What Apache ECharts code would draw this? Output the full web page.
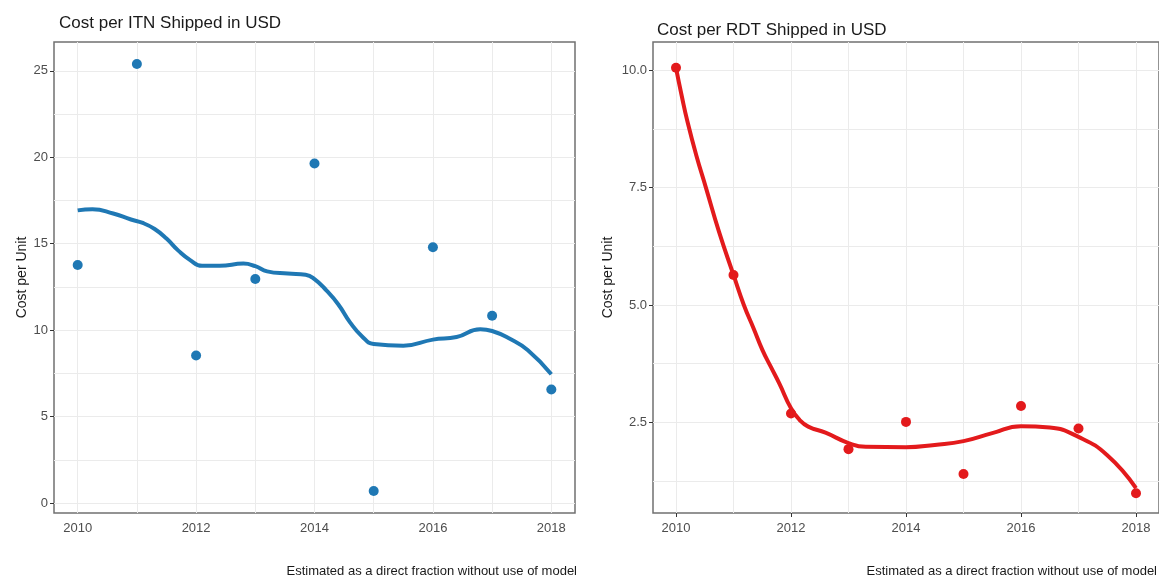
<!DOCTYPE html>
<html lang="en">
  <head>
    <meta charset="UTF-8" />
    <title>Cost per unit shipped</title>
    <style>
      * {
        padding: 0;
        margin: 0;
      }
      body {
        background: #fff;
      }
    </style>
    <script src="https://cdn.jsdelivr.net/npm/echarts@6/dist/echarts.min.js"></script>
  </head>
  <body>
    <div id="main" style="width: 1159px; height: 578px;"></div>
    <script type="text/javascript">
      // yearly observed cost per unit
      var years = [2010, 2011, 2012, 2013, 2014, 2015, 2016, 2017, 2018];
      var itnCost = [13.77, 25.4, 8.53, 12.96, 19.64, 0.69, 14.8, 10.83, 6.57];
      var rdtCost = [10.05, 5.64, 2.69, 1.93, 2.51, 1.4, 2.85, 2.37, 0.99];

      // smoothed trend
      var itnTrendX = [2010, 2010.25, 2010.6, 2010.9, 2011.1, 2011.3, 2011.5, 2011.7, 2011.9, 2012.1,
        2012.4, 2012.8, 2013, 2013.2, 2013.55, 2013.85, 2014, 2014.2, 2014.4, 2014.6,
        2014.8, 2015, 2015.5, 2016, 2016.4, 2016.8, 2017, 2017.3, 2017.6, 2018];
      var itnTrendY = [16.93, 17.0, 16.75, 16.4, 16.2, 15.85, 15.3, 14.6, 14.05, 13.72,
        13.72, 13.85, 13.7, 13.4, 13.27, 13.2, 12.95, 12.3, 11.5, 10.45,
        9.65, 9.2, 9.1, 9.45, 9.6, 10.05, 9.95, 9.5, 8.85, 7.45];
      var rdtTrendX = [2010, 2010.1, 2010.2, 2010.35, 2010.52, 2010.75, 2011, 2011.18, 2011.35, 2011.5,
        2011.65, 2011.8, 2012, 2012.15, 2012.3, 2012.6, 2013, 2013.3, 2014, 2014.5,
        2015, 2015.5, 2016, 2016.5, 2017, 2017.5, 2018];
      var rdtTrendY = [10.05, 9.45, 8.9, 8.2, 7.5, 6.55, 5.64, 5.0, 4.5, 4.05,
        3.68, 3.32, 2.8, 2.55, 2.41, 2.28, 2.06, 1.98, 1.97, 2.02,
        2.1, 2.27, 2.42, 2.39, 2.19, 1.8, 1.1];

      // tick labels and grid lines
      var xTicks = [2010, 2012, 2014, 2016, 2018];
      var xGrid = [2010, 2011, 2012, 2013, 2014, 2015, 2016, 2017, 2018];
      var itnTicks = [0, 5, 10, 15, 20, 25];
      var itnGrid = [0, 2.5, 5, 7.5, 10, 12.5, 15, 17.5, 20, 22.5, 25];
      var rdtTicks = [2.5, 5, 7.5, 10];
      var rdtGrid = [1.25, 2.5, 3.75, 5, 6.25, 7.5, 8.75, 10];

      var font = 'Liberation Sans, Arial, sans-serif';
      var blue = '#1f78b4';
      var red = '#e31a1c';

      function zip(xs, ys) {
        return xs.map(function (x, i) { return [x, ys[i]]; });
      }

      function gridLines(xs, ys) {
        return {
          silent: true,
          z: 1,
          animation: false,
          symbol: ['none', 'none'],
          label: {show: false},
          emphasis: {disabled: true},
          lineStyle: {color: '#ebebeb', width: 1, type: 'solid'},
          data: xs.map(function (v) { return {xAxis: v}; })
            .concat(ys.map(function (v) { return {yAxis: v}; }))
        };
      }

      function xAxis(idx) {
        return {
          type: 'value',
          gridIndex: idx,
          min: 2009.6,
          max: 2018.4,
          splitLine: {show: false},
          axisLine: {show: false},
          axisTick: {show: true, customValues: xTicks, length: 4, lineStyle: {color: '#333'}},
          axisLabel: {
            customValues: xTicks,
            color: '#4d4d4d',
            fontSize: 13,
            fontFamily: font,
            margin: 9,
            formatter: function (v) { return String(v); }
          }
        };
      }

      var myChart = echarts.init(document.getElementById('main'));

      var option = {
        animation: false,
        backgroundColor: '#fff',
        title: [
          {
            text: 'Cost per ITN Shipped in USD',
            left: 54,
            top: 10,
            textStyle: {fontSize: 17, fontWeight: 'normal', color: '#1a1a1a', fontFamily: font}
          },
          {
            text: 'Cost per RDT Shipped in USD',
            left: 652,
            top: 17,
            textStyle: {fontSize: 17, fontWeight: 'normal', color: '#1a1a1a', fontFamily: font}
          }
        ],
        grid: [
          {left: 54, right: 584, top: 42, bottom: 65, show: true, borderColor: '#707070', borderWidth: 1.5},
          {left: 653, right: -2, top: 42, bottom: 65, show: true, borderColor: '#707070', borderWidth: 1.5}
        ],
        xAxis: [xAxis(0), xAxis(1)],
        yAxis: [
          {
            type: 'value',
            gridIndex: 0,
            min: -0.58,
            max: 26.67,
            name: 'Cost per Unit',
            nameLocation: 'middle',
            nameGap: 25,
            nameTextStyle: {fontSize: 14, color: '#1a1a1a', fontFamily: font},
            splitLine: {show: false},
            axisLine: {show: false},
            axisTick: {show: true, customValues: itnTicks, length: 4, lineStyle: {color: '#333'}},
            axisLabel: {customValues: itnTicks, color: '#4d4d4d', fontSize: 13, fontFamily: font, margin: 6}
          },
          {
            type: 'value',
            gridIndex: 1,
            min: 0.57,
            max: 10.6,
            name: 'Cost per Unit',
            nameLocation: 'middle',
            nameGap: 38,
            nameTextStyle: {fontSize: 14, color: '#1a1a1a', fontFamily: font},
            splitLine: {show: false},
            axisLine: {show: false},
            axisTick: {show: true, customValues: rdtTicks, length: 4, lineStyle: {color: '#333'}},
            axisLabel: {
              customValues: rdtTicks,
              color: '#4d4d4d',
              fontSize: 13,
              fontFamily: font,
              margin: 6,
              formatter: function (v) { return v.toFixed(1); }
            }
          }
        ],
        graphic: [
          {
            type: 'text',
            right: 582,
            top: 565,
            style: {text: 'Estimated as a direct fraction without use of model', fill: '#1a1a1a', font: '13px ' + font}
          },
          {
            type: 'text',
            right: 2,
            top: 565,
            style: {text: 'Estimated as a direct fraction without use of model', fill: '#1a1a1a', font: '13px ' + font}
          }
        ],
        series: [
          {
            type: 'scatter',
            xAxisIndex: 0,
            yAxisIndex: 0,
            symbolSize: 10,
            itemStyle: {color: blue, opacity: 1},
            data: zip(years, itnCost),
            markLine: gridLines(xGrid, itnGrid),
            z: 3
          },
          {
            type: 'line',
            xAxisIndex: 0,
            yAxisIndex: 0,
            smooth: true,
            showSymbol: false,
            lineStyle: {color: blue, width: 4},
            data: zip(itnTrendX, itnTrendY),
            z: 4
          },
          {
            type: 'scatter',
            xAxisIndex: 1,
            yAxisIndex: 1,
            symbolSize: 10,
            itemStyle: {color: red, opacity: 1},
            data: zip(years, rdtCost),
            markLine: gridLines(xGrid, rdtGrid),
            z: 3
          },
          {
            type: 'line',
            xAxisIndex: 1,
            yAxisIndex: 1,
            smooth: true,
            showSymbol: false,
            lineStyle: {color: red, width: 4},
            data: zip(rdtTrendX, rdtTrendY),
            z: 4
          }
        ]
      };

      myChart.setOption(option, true);
    </script>
  </body>
</html>
